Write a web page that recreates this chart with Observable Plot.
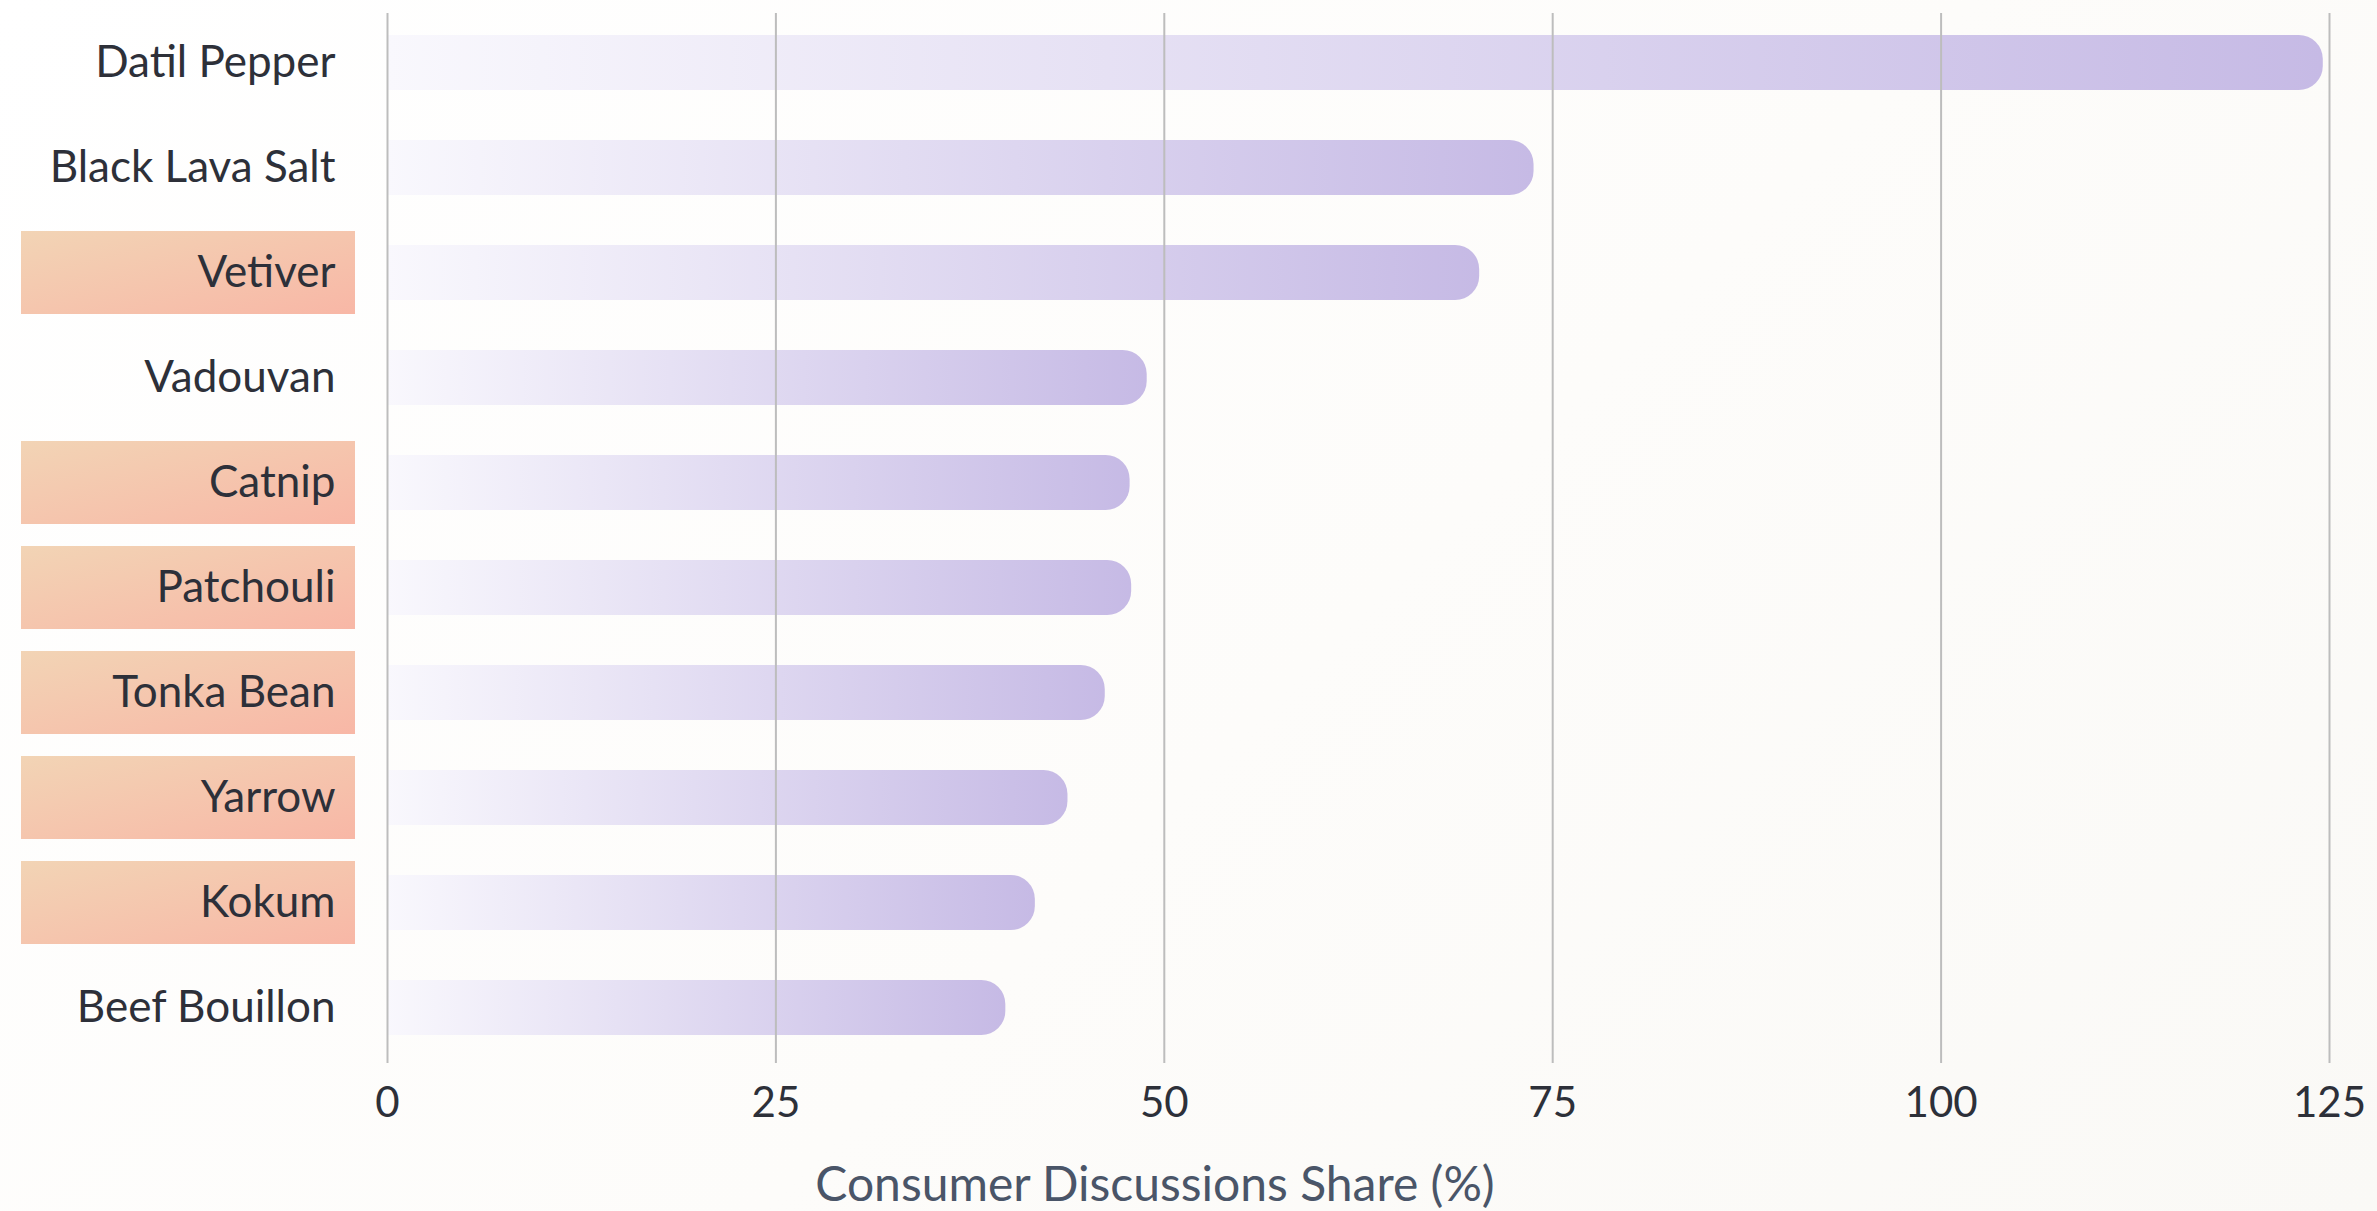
<!DOCTYPE html>
<html>
<head>
<meta charset="utf-8">
<script src="https://cdn.jsdelivr.net/npm/d3@7"></script>
<script src="https://cdn.jsdelivr.net/npm/@observablehq/plot@0.6"></script>
<style>
  html, body { margin: 0; padding: 0; }
  body {
    width: 2377px; height: 1211px; overflow: hidden; position: relative;
    background: linear-gradient(135deg, #ffffff 0%, #fdfcfa 55%, #faf9f6 100%);
    font-family: Lato, "Open Sans", sans-serif;
  }
  #chart { position: absolute; left: 0; top: 0; }
  #xlabel {
    position: absolute; left: 0; top: 1153px; width: 2310px;
    text-align: center; font-size: 48px; line-height: 60px; color: #4a5568;
  }
</style>
</head>
<body>
<div id="chart"></div>
<div id="xlabel"></div>
<script>
const names = ["Datil Pepper", "Black Lava Salt", "Vetiver", "Vadouvan", "Catnip",
               "Patchouli", "Tonka Bean", "Yarrow", "Kokum", "Beef Bouillon"];
const values = [124.6, 73.8, 70.3, 48.9, 47.8, 47.9, 46.2, 43.8, 41.7, 39.8];
const highlighted = ["Vetiver", "Catnip", "Patchouli", "Tonka Bean", "Yarrow", "Kokum"];
const xTicks = [0, 25, 50, 75, 100, 125];
const xLabel = "Consumer Discussions Share (%)";

const data = names.map((name, i) => ({name, value: values[i]}));

const defs = () => {
  const s = d3.create("svg:defs");
  const g1 = s.append("linearGradient").attr("id", "barGrad").attr("x1", 0).attr("x2", 1).attr("y1", 0).attr("y2", 0);
  g1.append("stop").attr("offset", "0%").attr("stop-color", "#f9f8fd");
  g1.append("stop").attr("offset", "100%").attr("stop-color", "#c6bae5");
  const g2 = s.append("linearGradient").attr("id", "hlGrad").attr("x1", 0).attr("y1", 0).attr("x2", 1).attr("y2", 1);
  g2.append("stop").attr("offset", "0%").attr("stop-color", "#f2d4b5");
  g2.append("stop").attr("offset", "100%").attr("stop-color", "#f8b7a6");
  return s.node();
};

const plot = Plot.plot({
  width: 2377,
  height: 1135,
  marginTop: 13,
  marginBottom: 72,
  marginLeft: 387,
  marginRight: 48,
  style: {fontFamily: "Lato, 'Open Sans', sans-serif", fontSize: "42px", color: "#2d3039", background: "transparent", overflow: "visible"},
  x: {domain: [0, 125], ticks: xTicks, label: null},
  y: {domain: names, paddingInner: 0.48, paddingOuter: 0.206, align: 0.44, label: null},
  marks: [
    defs,
    Plot.cell(highlighted, {y: d => d, fill: "url(#hlGrad)", insetLeft: -366, insetRight: 1974, insetTop: -14, insetBottom: -14}),
    Plot.barX(data, {x: "value", y: "name", fill: "url(#barGrad)", rx2: 24}),
    Plot.gridX(xTicks, {stroke: "#bdbdbd", strokeOpacity: 1, strokeWidth: 2}),
    Plot.axisY({tickSize: 0, tickPadding: 52, fontSize: 44, fill: "#2d3039"}),
    Plot.axisX({ticks: xTicks, tickSize: 0, tickPadding: 24, fontSize: 42, fill: "#2d3039", label: null})
  ]
});
document.getElementById("chart").appendChild(plot);
document.getElementById("xlabel").textContent = xLabel;
</script>
</body>
</html>
